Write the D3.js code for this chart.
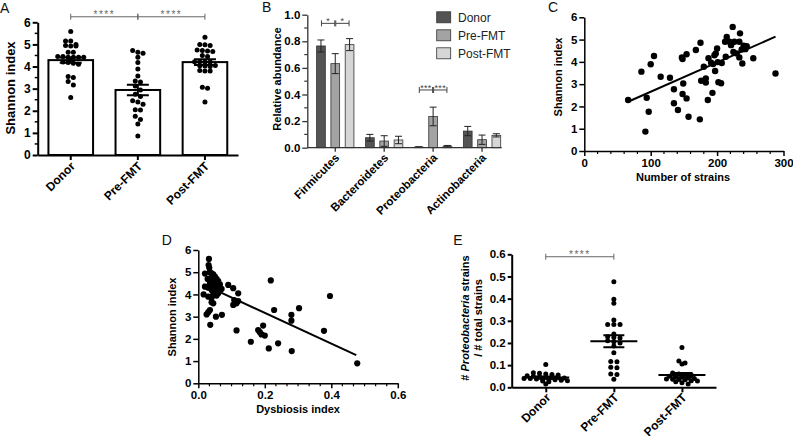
<!DOCTYPE html>
<html><head><meta charset="utf-8">
<script src="https://cdn.jsdelivr.net/npm/d3@7"></script>
<style>
body{margin:0;background:#fff;}
svg{display:block;}
text{font-family:"Liberation Sans",Arial,sans-serif;}
</style></head><body>
<svg id="c" width="793" height="436"></svg>
<script>
// ---------- Panel A data ----------
const groupsA = ["Donor", "Pre-FMT", "Post-FMT"];
const shannonDonor = [5.58,5.16,5.15,5.0,4.95,4.93,4.93,4.65,4.65,4.45,4.45,4.42,4.42,4.42,4.42,4.2,4.18,4.15,4.1,3.55,3.5,3.32,3.17,2.6];
const shannonPre = [4.72,4.65,4.6,4.42,4.18,3.89,3.57,3.35,3.3,3.12,2.94,2.75,2.64,2.45,2.4,2.3,2.05,2.03,1.75,1.6,1.4,0.86];
const shannonPost = [5.32,5.0,4.98,4.95,4.75,4.72,4.7,4.68,4.5,4.45,4.22,4.22,4.2,4.2,4.05,4.03,4.02,4.0,3.82,3.8,3.8,3.06,3.02,2.4];
const meanA = [4.29, 2.94, 4.2];
const semA = [0.12, 0.24, 0.13];
const ticksA = [0,1,2,3,4,5,6];
const sigA = [{from:"Donor", to:"Pre-FMT", y:6.25, label:"****"}, {from:"Pre-FMT", to:"Post-FMT", y:6.25, label:"****"}];

// ---------- Panel B data ----------
const phyla = ["Firmicutes","Bacteroidetes","Proteobacteria","Actinobacteria"];
const seriesB = ["Donor","Pre-FMT","Post-FMT"];
const abDonor = [0.765,0.075,0.005,0.125];
const errDonor = [0.045,0.025,0.002,0.035];
const abPre = [0.632,0.05,0.235,0.06];
const errPre = [0.075,0.04,0.07,0.035];
const abPost = [0.775,0.058,0.012,0.093];
const errPost = [0.045,0.028,0.005,0.012];
const coloursB = ["#545454","#a3a3a3","#d6d6d6"];
const ticksB = [0,0.2,0.4,0.6,0.8,1.0];
const sigB = [
  {phylum:"Firmicutes", from:"Donor", to:"Pre-FMT", y:0.935, label:"*"},
  {phylum:"Firmicutes", from:"Pre-FMT", to:"Post-FMT", y:0.935, label:"*"},
  {phylum:"Proteobacteria", from:"Donor", to:"Pre-FMT", y:0.434, label:"***"},
  {phylum:"Proteobacteria", from:"Pre-FMT", to:"Post-FMT", y:0.434, label:"***"}
];

// ---------- Panel C data ----------
const strainsC = [66,86,94,97,92,100,105,115,129,135,135,141,147,148,154,149,148,154,157,168,175,174,176,183,183,180,187,186,193,191,194,196,198,200,197,202,206,201,207,213,212,214.5,218.5,221,223.5,226,229.5,224.5,234.5,233.5,237,233.5,238,240,242.5,244.6,254.5,288];
const shannonC = [2.29,3.56,2.39,1.76,0.87,3.89,4.26,3.33,3.29,2.77,2.14,1.84,4.2,4.13,4.34,3.03,2.56,2.36,1.54,4.53,4.86,1.42,3.15,3.26,3.07,3.78,4.16,2.29,2.61,3.96,3.9,4.3,4.38,4.6,3.59,3.09,3.04,3.99,3.95,4.23,4.9,5.12,4.9,4.75,5.57,4.9,4.38,4.45,5.28,4.9,4.56,4.2,3.93,4.72,4.57,4.7,4.16,3.48];
const fitC = {x0:65, y0:2.2, x1:288, y1:5.13};
const ticksCx = [0,100,200,300];
const ticksCy = [0,1,2,3,4,5,6];

// ---------- Panel D data ----------
const dysD = [0.032,0.031,0.033,0.02,0.035,0.04,0.045,0.05,0.038,0.028,0.042,0.055,0.06,0.048,0.035,0.052,0.065,0.058,0.02,0.03,0.045,0.04,0.055,0.065,0.07,0.05,0.06,0.016,0.045,0.055,0.03,0.04,0.04,0.045,0.035,0.03,0.025,0.053,0.071,0.036,0.09,0.105,0.12,0.108,0.115,0.12,0.105,0.115,0.158,0.18,0.185,0.19,0.195,0.2,0.212,0.218,0.228,0.24,0.28,0.28,0.303,0.281,0.378,0.396,0.478];
const shannonD = [5.6,5.32,5.2,4.94,5.0,4.95,4.9,4.8,4.75,4.7,4.6,4.7,4.6,4.55,4.5,4.45,4.45,4.35,4.35,4.3,4.3,4.2,4.2,4.2,4.25,4.1,4.05,4.0,4.0,3.95,3.9,3.85,3.65,3.6,3.3,3.2,3.1,3.0,3.08,2.63,4.43,4.28,4.05,3.75,3.6,3.7,3.53,2.38,1.87,2.4,2.3,2.2,2.6,2.15,1.57,4.63,3.3,1.8,3.08,2.82,3.38,1.45,2.36,3.93,0.9];
const fitD = {x0:0.015, y0:4.45, x1:0.475, y1:1.27};
const ticksDx = [0,0.2,0.4,0.6];
const ticksDy = [0,1,2,3,4,5,6];

// ---------- Panel E data ----------
const groupsE = ["Donor","Pre-FMT","Post-FMT"];
const propDonor = [0.103,0.066,0.063,0.06,0.058,0.055,0.052,0.05,0.048,0.046,0.045,0.044,0.042,0.04,0.04,0.038,0.036,0.035,0.034,0.032,0.03,0.028,0.025,0.015];
const propPre = [0.476,0.397,0.379,0.304,0.283,0.283,0.283,0.24,0.228,0.225,0.222,0.21,0.205,0.2,0.186,0.156,0.116,0.115,0.09,0.088,0.06,0.058,0.036];
const propPost = [0.179,0.119,0.11,0.105,0.065,0.06,0.058,0.055,0.05,0.048,0.045,0.042,0.04,0.038,0.036,0.035,0.034,0.03,0.028,0.025,0.02,0.015];
const meanE = [0.044,0.208,0.055];
const semE = [0.005,0.027,0.01];
const ticksE = [0,0.1,0.2,0.3,0.4,0.5,0.6];
const sigE = [{from:"Donor", to:"Pre-FMT", y:0.589, label:"****"}];

// ================= drawing =================
const svg = d3.select("#c");
const FONT = "Liberation Sans, Arial, sans-serif";

function styleAxis(g, sw, fs, colour) {
  colour = colour || "#000";
  g.attr("font-family", FONT);
  g.select(".domain").attr("stroke", colour).attr("stroke-width", sw);
  g.selectAll(".tick line").attr("stroke", colour).attr("stroke-width", sw);
  g.selectAll(".tick text").attr("font-size", fs).attr("font-weight", "bold").attr("fill", "#000");
}
function rotateLabels(g, dx, dy) {
  g.selectAll(".tick text")
    .attr("x", 0).attr("y", 0).attr("dy", "0.35em")
    .attr("text-anchor", "end")
    .attr("transform", `translate(${dx},${dy}) rotate(-45)`);
}
function minorTicks(parent, scale, vals, orient, pos, len, sw, colour) {
  parent.selectAll(null).data(vals).enter().append("line")
    .attr("stroke", colour || "#000").attr("stroke-width", sw)
    .each(function(v) {
      const s = d3.select(this);
      if (orient === "left") s.attr("x1", pos).attr("x2", pos - len).attr("y1", scale(v)).attr("y2", scale(v));
      else s.attr("y1", pos).attr("y2", pos + len).attr("x1", scale(v)).attr("x2", scale(v));
    });
}
function rowLayout(values, yScale, d, rowH) {
  const pts = values.map(v => ({v, y: yScale(v)})).sort((a, b) => a.y - b.y);
  const rows = []; let cur = null;
  for (const p of pts) {
    if (!cur || p.y - cur[0].y > rowH) { cur = [p]; rows.push(cur); } else cur.push(p);
  }
  rows.forEach(r => r.forEach((p, i) => p.dx = (i - (r.length - 1) / 2) * d));
  return pts;
}
function panelLetter(t, x, y) {
  svg.append("text").attr("x", x).attr("y", y).attr("font-size", 14).attr("font-family", FONT).attr("fill", "#111").text(t);
}
function axisTitle(t, x, y, rot, fs) {
  svg.append("text").attr("transform", `translate(${x},${y}) rotate(${rot})`)
    .attr("text-anchor", "middle").attr("dy", "0.35em")
    .attr("font-size", fs).attr("font-weight", "bold").attr("font-family", FONT).attr("fill", "#000").text(t);
}
function sigBracket(g, x1, x2, y, label, fs, colour, gap) {
  g.append("path").attr("d", `M${x1},${y-3}V${y+3}M${x1},${y}H${x2}M${x2},${y-3}V${y+3}`)
    .attr("stroke", colour).attr("stroke-width", 1).attr("fill", "none");
  g.append("text").attr("x", (x1 + x2) / 2).attr("y", y - gap).attr("text-anchor", "middle")
    .attr("font-size", fs).attr("font-family", FONT).attr("fill", colour).attr("letter-spacing", fs > 9 ? 1.5 : 0.3).text(label);
}

// ---------- Panel A ----------
{
  const g = svg.append("g");
  const x = d3.scaleBand().domain(groupsA).range([37.7, 238]).paddingInner(0.335).paddingOuter(0.16);
  const y = d3.scaleLinear().domain([0, 6]).range([155, 22.3]);
  const data = [shannonDonor, shannonPre, shannonPost];
  groupsA.forEach((grp, i) => {
    g.append("rect").attr("x", x(grp)).attr("y", y(meanA[i])).attr("width", x.bandwidth())
      .attr("height", y(0) - y(meanA[i])).attr("fill", "#fff").attr("stroke", "#000").attr("stroke-width", 2);
  });
  groupsA.forEach((grp, i) => {
    const cx = x(grp) + x.bandwidth() / 2;
    const pts = rowLayout(data[i], y, 5.2, 4.2);
    g.selectAll(null).data(pts).enter().append("circle")
      .attr("cx", p => cx + p.dx).attr("cy", p => p.y).attr("r", 2.5).attr("fill", "#000");
    const top = y(meanA[i] + semA[i]), bot = y(meanA[i] - semA[i]);
    g.append("path").attr("d", `M${cx-11},${top}H${cx+11}M${cx},${top}V${bot}M${cx-11},${bot}H${cx+11}`)
      .attr("stroke", "#000").attr("stroke-width", 2).attr("fill", "none");
  });
  const ax = g.append("g").attr("transform", "translate(0,155)").call(d3.axisBottom(x).tickSize(5).tickSizeOuter(0));
  styleAxis(ax, 2, 12);
  rotateLabels(ax, 2, 9);
  const ay = g.append("g").attr("transform", "translate(37.7,0)")
    .call(d3.axisLeft(y).tickValues(ticksA).tickFormat(d3.format("d")).tickSize(5).tickPadding(2).tickSizeOuter(0));
  styleAxis(ay, 2, 12);
  minorTicks(g, y, [0.5,1.5,2.5,3.5,4.5,5.5], "left", 37.7, 3, 1.5);
  sigA.forEach(s => sigBracket(g, x(s.from) + x.bandwidth()/2, x(s.to) + x.bandwidth()/2, y(s.y), s.label, 10, "#666", -1));
  axisTitle("Shannon index", 10, 88, -90, 13);
  panelLetter("A", 0, 13);
}

// ---------- Panel B ----------
{
  const g = svg.append("g");
  const x = d3.scaleBand().domain(phyla).range([310.8, 506.5]);
  const xs = d3.scaleBand().domain(seriesB).range([-21.45, 21.45]).paddingInner(0.39).paddingOuter(0.195);
  const y = d3.scaleLinear().domain([0, 1]).range([147.7, 14.7]);
  const vals = [abDonor, abPre, abPost], errs = [errDonor, errPre, errPost];
  phyla.forEach((ph, j) => {
    const c = x(ph) + x.bandwidth() / 2;
    seriesB.forEach((s, i) => {
      const bx = c + xs(s);
      g.append("rect").attr("x", bx).attr("y", y(vals[i][j])).attr("width", xs.bandwidth())
        .attr("height", y(0) - y(vals[i][j])).attr("fill", coloursB[i]).attr("stroke", "#333").attr("stroke-width", 0.8);
      const mx = bx + xs.bandwidth() / 2;
      const t = y(vals[i][j] + errs[i][j]), b = y(Math.max(0, vals[i][j] - errs[i][j]));
      g.append("path").attr("d", `M${mx-3.5},${t}H${mx+3.5}M${mx},${t}V${b}M${mx-3.5},${b}H${mx+3.5}`)
        .attr("stroke", "#222").attr("stroke-width", 1).attr("fill", "none");
    });
  });
  const ax = g.append("g").attr("transform", "translate(0,147.7)").call(d3.axisBottom(x).tickSize(4).tickSizeOuter(0));
  ax.select(".domain").remove();
  g.append("line").attr("x1", 307.3).attr("x2", 501.7).attr("y1", 147.7).attr("y2", 147.7).attr("stroke", "#333").attr("stroke-width", 1.3);
  styleAxis(ax, 1.3, 11.5, "#333");
  rotateLabels(ax, 2, 8);
  const ay = g.append("g").attr("transform", "translate(307.3,0)")
    .call(d3.axisLeft(y).tickValues(ticksB).tickFormat(d3.format(".1f")).tickSize(5).tickPadding(2).tickSizeOuter(0));
  styleAxis(ay, 1.3, 11.5, "#333");
  minorTicks(g, y, [0.1,0.3,0.5,0.7,0.9], "left", 307.3, 3, 1.2, "#333");
  sigB.forEach(s => {
    const c = x(s.phylum) + x.bandwidth() / 2;
    const x1 = c + xs(s.from) + xs.bandwidth() / 2 + 0.5, x2 = c + xs(s.to) + xs.bandwidth() / 2 - 0.5;
    sigBracket(g, x1, x2, y(s.y), s.label, 9, "#444", -1);
  });
  // legend
  seriesB.forEach((s, i) => {
    const cy = 17.3 + i * 18;
    g.append("rect").attr("x", 436.7).attr("y", cy - 5.5).attr("width", 14).attr("height", 11)
      .attr("fill", coloursB[i]).attr("stroke", "#333").attr("stroke-width", 0.8);
    g.append("text").attr("x", 458).attr("y", cy).attr("dy", "0.35em").attr("font-size", 12)
      .attr("font-family", FONT).attr("fill", "#222").text(s);
  });
  axisTitle("Relative abundance", 276.7, 79, -90, 11);
  panelLetter("B", 262, 12);
}

// ---------- Panel C ----------
{
  const g = svg.append("g");
  const x = d3.scaleLinear().domain([0, 300]).range([584.3, 783.5]);
  const y = d3.scaleLinear().domain([0, 6]).range([151, 17.3]);
  g.selectAll(null).data(strainsC.map((s, i) => [s, shannonC[i]])).enter().append("circle")
    .attr("cx", d => x(d[0])).attr("cy", d => y(d[1])).attr("r", 3.2).attr("fill", "#000");
  g.append("line").attr("x1", x(fitC.x0)).attr("y1", y(fitC.y0)).attr("x2", x(fitC.x1)).attr("y2", y(fitC.y1))
    .attr("stroke", "#000").attr("stroke-width", 2);
  const ax = g.append("g").attr("transform", "translate(0,151)")
    .call(d3.axisBottom(x).tickValues(ticksCx).tickFormat(d3.format("d")).tickSize(5).tickPadding(3).tickSizeOuter(0));
  styleAxis(ax, 1.5, 11.5);
  minorTicks(g, x, d3.range(20, 300, 20).filter(v => v % 100 !== 0), "bottom", 151, 3, 1.2);
  const ay = g.append("g").attr("transform", "translate(584.3,0)")
    .call(d3.axisLeft(y).tickValues(ticksCy).tickFormat(d3.format("d")).tickSize(5).tickPadding(2).tickSizeOuter(0));
  styleAxis(ay, 1.5, 11.5);
  axisTitle("Shannon index", 558, 77, -90, 11);
  axisTitle("Number of strains", 683, 177, 0, 11);
  panelLetter("C", 548, 12);
}

// ---------- Panel D ----------
{
  const g = svg.append("g");
  const x = d3.scaleLinear().domain([0, 0.6]).range([198.3, 397.8]);
  const y = d3.scaleLinear().domain([0, 6]).range([383.3, 250]);
  g.selectAll(null).data(dysD.map((s, i) => [s, shannonD[i]])).enter().append("circle")
    .attr("cx", d => x(d[0])).attr("cy", d => y(d[1])).attr("r", 3.1).attr("fill", "#000");
  g.append("line").attr("x1", x(fitD.x0)).attr("y1", y(fitD.y0)).attr("x2", x(fitD.x1)).attr("y2", y(fitD.y1))
    .attr("stroke", "#000").attr("stroke-width", 2);
  const ax = g.append("g").attr("transform", "translate(0,383.3)")
    .call(d3.axisBottom(x).tickValues(ticksDx).tickFormat(d3.format(".1f")).tickSize(5).tickPadding(3).tickSizeOuter(0));
  styleAxis(ax, 1.5, 11.5);
  minorTicks(g, x, d3.range(1, 18).filter(k => k % 6 !== 0).map(k => k * 0.6 / 18), "bottom", 383.3, 3, 1.2);
  const ay = g.append("g").attr("transform", "translate(198.3,0)")
    .call(d3.axisLeft(y).tickValues(ticksDy).tickFormat(d3.format("d")).tickSize(5).tickPadding(2).tickSizeOuter(0));
  styleAxis(ay, 1.5, 11.5);
  axisTitle("Shannon index", 171.7, 317, -90, 11);
  axisTitle("Dysbiosis index", 298, 409, 0, 11);
  panelLetter("D", 161.7, 245);
}

// ---------- Panel E ----------
{
  const g = svg.append("g");
  const x = d3.scalePoint().domain(groupsE).range([511.7, 716]).padding(0.5);
  const y = d3.scaleLinear().domain([0, 0.6]).range([387.3, 254.3]);
  const data = [propDonor, propPre, propPost];
  groupsE.forEach((grp, i) => {
    const cx = x(grp);
    const pts = rowLayout(data[i], y, 6.2, 2.6);
    g.selectAll(null).data(pts).enter().append("circle")
      .attr("cx", p => cx + p.dx).attr("cy", p => p.y).attr("r", 2.5).attr("fill", "#000");
    const m = y(meanE[i]), t = y(meanE[i] + semE[i]), b = y(meanE[i] - semE[i]);
    g.append("path").attr("d", `M${cx-23.5},${m}H${cx+23.5}M${cx-10.5},${t}H${cx+10.5}M${cx},${t}V${b}M${cx-10.5},${b}H${cx+10.5}`)
      .attr("stroke", "#000").attr("stroke-width", 2).attr("fill", "none");
  });
  const ax = g.append("g").attr("transform", "translate(0,387.3)").call(d3.axisBottom(x).tickSize(5).tickSizeOuter(0));
  styleAxis(ax, 2, 12);
  rotateLabels(ax, 2, 8);
  const ay = g.append("g").attr("transform", "translate(511.7,0)")
    .call(d3.axisLeft(y).tickValues(ticksE).tickFormat(d3.format(".1f")).tickSize(4).tickPadding(2).tickSizeOuter(0));
  styleAxis(ay, 2, 11.5);
  sigE.forEach(s => sigBracket(g, x(s.from), x(s.to), y(s.y), s.label, 10, "#666", -1));
  // two-line y title
  const t1 = svg.append("text").attr("transform", "translate(465,318) rotate(-90)").attr("text-anchor", "middle").attr("dy", "0.35em")
    .attr("font-size", 11).attr("font-weight", "bold").attr("font-family", FONT);
  t1.append("tspan").text("# ");
  t1.append("tspan").attr("font-style", "italic").text("Proteobacteria");
  t1.append("tspan").text(" strains");
  axisTitle("/ # total strains", 478.5, 318, -90, 11);
  panelLetter("E", 453.3, 245);
}
</script>
</body></html>
